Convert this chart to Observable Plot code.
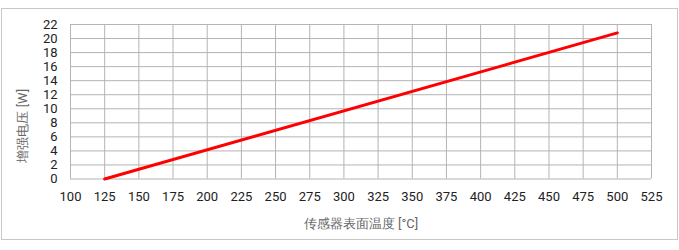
<!DOCTYPE html>
<html><head><meta charset="utf-8">
<script src="https://cdn.jsdelivr.net/npm/d3@7"></script>
<script src="https://cdn.jsdelivr.net/npm/@observablehq/plot@0.6"></script>
<style>
body{margin:0;background:#fff;}
#wrap{position:relative;width:679px;height:250px;}
#box{position:absolute;left:1px;top:8px;width:675px;height:230px;border:1px solid #c8c8c8;pointer-events:none;}
</style></head>
<body><div id="wrap"><div id="box"></div></div>
<script>
const temps = [125, 500];
const power = [0, 20.8];
const xTicks = [100,125,150,175,200,225,250,275,300,325,350,375,400,425,450,475,500,525];
const yTicks = [0,2,4,6,8,10,12,14,16,18,20,22];
const xLabel = "传感器表面温度 [°C]";
const yLabel = "增强电压 [W]";

const data = temps.map((t,i)=>({t, p: power[i]}));
const chart = Plot.plot({
  width: 679, height: 250,
  marginLeft: 70, marginTop: 24, marginRight: 28, marginBottom: 71.5,
  style: {fontFamily: "Roboto, sans-serif", fontSize: "13px", color: "#222", background: "transparent"},
  x: {domain: [100, 525]},
  y: {domain: [0, 22]},
  marks: [
    Plot.gridX(xTicks, {stroke: "#b4b4b4", strokeOpacity: 1}),
    Plot.gridY(yTicks, {stroke: "#b4b4b4", strokeOpacity: 1}),
    Plot.axisX(xTicks, {tickSize: 0, tickPadding: 13, tickFormat: d=>String(d), label: null}),
    Plot.axisY(yTicks, {tickSize: 0, tickPadding: 13, tickFormat: d=>String(d), label: null}),
    Plot.text([xLabel], {frameAnchor: "bottom", dy: 45, lineAnchor: "middle", textAnchor: "middle", fill: "#666", fontSize: 13}),
    Plot.text([yLabel], {frameAnchor: "left", rotate: -90, dx: -48, dy: 24, lineAnchor: "middle", textAnchor: "middle", fill: "#666", fontSize: 13}),
    Plot.line(data, {x: "t", y: "p", stroke: "#ff0000", strokeWidth: 3})
  ]
});
document.getElementById("wrap").prepend(chart);
</script>
</body></html>
